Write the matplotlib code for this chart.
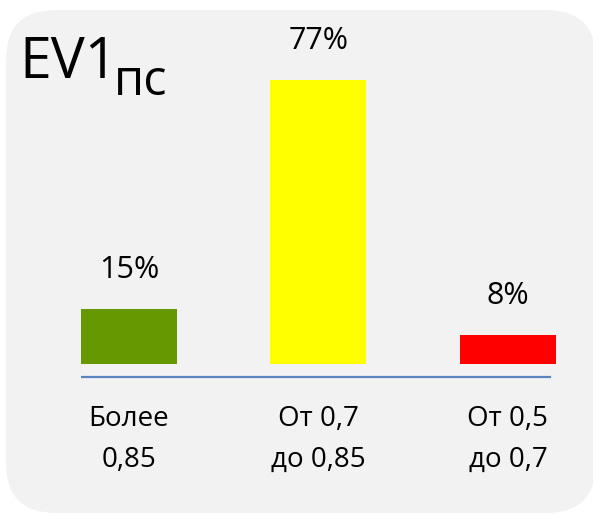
import matplotlib
matplotlib.use("Agg")
import matplotlib.pyplot as plt
from matplotlib.patches import FancyBboxPatch

plt.rcParams["font.family"] = ["Open Sans", "DejaVu Sans"]

# chart data
categories = ["Более\n0,85", "От 0,7\nдо 0,85", "От 0,5\nдо 0,7"]
values = [15, 77, 8]
value_labels = ["15%", "77%", "8%"]
colors = ["#669900", "#ffff00", "#ff0000"]

fig = plt.figure(figsize=(5.93, 5.15), dpi=100)
fig.patch.set_facecolor("white")

# rounded grey panel behind everything
panel = FancyBboxPatch((0.06, 0.02), 5.9, 5.03,
                       boxstyle="round,pad=0,rounding_size=0.5",
                       transform=fig.dpi_scale_trans,
                       facecolor="#f2f2f2", edgecolor="none", zorder=-5)
fig.patches.append(panel)

ax = fig.add_axes([0.1366, 0.2573, 0.803, 0.645])
ax.set_facecolor("none")
ax.set_zorder(2)

x = range(len(values))
bars = ax.bar(x, values, width=0.507, color=colors, zorder=2)

for b, lab in zip(bars, value_labels):
    ax.annotate(lab, (b.get_x() + b.get_width() / 2, b.get_height()),
                xytext=(0, 22), textcoords="offset points",
                ha="center", va="baseline", fontsize=22, color="#000000")

# category axis line (sits a little below the bars, stops short of the last bar)
ax.axhline(-3.5, xmin=0, xmax=0.985, color="#5b83be", linewidth=1.6, zorder=1)

ax.set_xlim(-0.253, 2.26)
ax.set_ylim(-5, 85)
ax.set_xticks(list(x))
ax.set_xticklabels(categories, fontsize=20, linespacing=1.62)
ax.tick_params(axis="x", length=0, pad=16)
ax.set_yticks([])
for s in ax.spines.values():
    s.set_visible(False)

# title EV1 with subscript
fig.text(19 / 593, 1 - 78 / 515, "EV1", fontsize=41, ha="left", va="baseline", zorder=3)
fig.text(114 / 593, 1 - 95 / 515, "пс", fontsize=35, ha="left", va="baseline", zorder=3)

fig.savefig("out.png", dpi=100)
